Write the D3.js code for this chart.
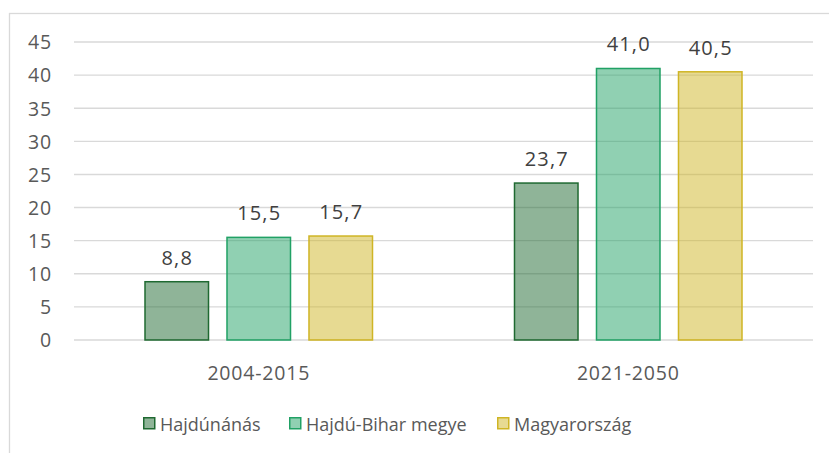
<!DOCTYPE html>
<html><head><meta charset="utf-8">
<script src="https://cdn.jsdelivr.net/npm/d3@7"></script>
<style>body{margin:0;background:#fff}svg{display:block}text{font-family:"Open Sans",sans-serif}</style>
</head><body><svg id="c" width="829" height="453"></svg>
<script>
const categories = ["2004-2015", "2021-2050"];
const seriesNames = ["Hajdúnánás", "Hajdú-Bihar megye", "Magyarország"];
const hajdunanas = [8.8, 23.7];
const hajduBihar = [15.5, 41.0];
const magyarorszag = [15.7, 40.5];
const yTicks = [0, 5, 10, 15, 20, 25, 30, 35, 40, 45];
const colors = ["#1f6931", "#21a165", "#cfb525"];

(function () {
const seriesValues = [hajdunanas, hajduBihar, magyarorszag];
const svg = d3.select("#c");
const pLeft = 74, pRight = 813, pTop = 42, pBottom = 340;

svg.append("rect").attr("x", 9.5).attr("y", 13.5).attr("width", 840).attr("height", 460)
  .attr("fill", "none").attr("stroke", "#d9d9d9").attr("stroke-width", 1.3);

const y = d3.scaleLinear().domain([0, 45]).range([pBottom, pTop]);
const x0 = d3.scaleBand().domain(categories).range([pLeft, pRight]).paddingInner(0).paddingOuter(0);
const groupW = 229;
const x1 = d3.scaleBand().domain(seriesNames).range([0, groupW]).paddingInner(0.207).paddingOuter(0);

svg.append("g").selectAll("line").data(yTicks).join("line")
  .attr("x1", pLeft).attr("x2", pRight)
  .attr("y1", d => y(d)).attr("y2", d => y(d))
  .attr("stroke", "#d9d9d9").attr("stroke-width", 1.4);

const yAxis = d3.axisLeft(y).tickValues(yTicks).tickSize(0).tickPadding(0).tickFormat(d3.format("d"));
const ga = svg.append("g").attr("transform", `translate(52,0)`).call(yAxis);
ga.select(".domain").remove();
ga.selectAll("text").attr("font-size", 19.5).attr("letter-spacing", 0.8).attr("fill", "#595959")
  .attr("font-family", "Open Sans, sans-serif").attr("dy", "0.35em");

const fmt = v => d3.format(".1f")(v).replace(".", ",");
seriesNames.forEach((s, si) => {
  const g = svg.append("g");
  categories.forEach((c, ci) => {
    const v = seriesValues[si][ci];
    const gx = x0(c) + (x0.bandwidth() - groupW) / 2 + x1(s);
    g.append("rect")
      .attr("x", gx + 0.75).attr("y", y(v))
      .attr("width", x1.bandwidth() - 1.5).attr("height", y(0) - y(v))
      .attr("fill", colors[si]).attr("fill-opacity", 0.5)
      .attr("stroke", colors[si]).attr("stroke-width", 1.5);
    g.append("text").attr("x", gx + x1.bandwidth() / 2 + 0.5).attr("y", y(v) - 17)
      .attr("text-anchor", "middle").attr("font-size", 20).attr("letter-spacing", 1.1)
      .attr("fill", "#404040").text(fmt(v));
  });
});

const xAxis = d3.axisBottom(x0).tickSize(0).tickPadding(0);
const gxa = svg.append("g").attr("transform", `translate(0,${pBottom})`).call(xAxis);
gxa.select(".domain").remove();
gxa.selectAll("text").attr("font-size", 19.5).attr("letter-spacing", 0.8).attr("fill", "#595959")
  .attr("font-family", "Open Sans, sans-serif").attr("y", 40).attr("dy", 0);

const legX = [143, 289, 497];
const leg = svg.append("g");
seriesNames.forEach((s, i) => {
  leg.append("rect").attr("x", legX[i] + 0.75).attr("y", 417.75).attr("width", 11).attr("height", 11)
    .attr("fill", colors[i]).attr("fill-opacity", 0.5).attr("stroke", colors[i]).attr("stroke-width", 1.5);
  leg.append("text").attr("x", legX[i] + 17).attr("y", 430.5).attr("font-size", 18).attr("fill", "#595959").text(s);
});
})();
</script></body></html>
